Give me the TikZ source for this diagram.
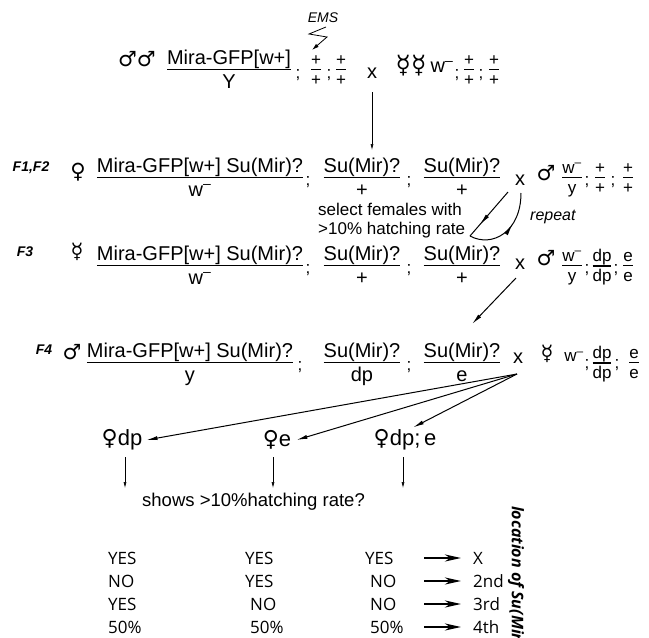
\documentclass[tikz,border=0pt]{standalone}
\usepackage{fontspec}
\setmainfont{Liberation Sans}
\newfontfamily\symfont{DejaVu Sans}
\newfontfamily\tabfont{Open Sans}
\usetikzlibrary{arrows.meta,decorations.markings}

\setlength{\arrayrulewidth}{1.2pt}
\setlength{\tabcolsep}{0pt}
\renewcommand{\arraystretch}{0.9}
% genotype fraction: chromosome over homologue
\newcommand{\fr}[2]{\begin{tabular}{c}#1\\[-1pt]\hline\rule{0pt}{0.9em}#2\end{tabular}}
\newcommand{\wm}{w\textsuperscript{–}}

\tikzset{
  big/.style={font=\fontsize{20}{22}\selectfont, inner sep=0pt},
  bfr/.style={big, yshift=-3pt},
  sm/.style={font=\fontsize{17}{18}\selectfont, inner sep=0pt},
  sfr/.style={sm, yshift=-3pt},
  gen/.style={font=\fontsize{14}{15}\selectfont\bfseries\itshape, inner sep=0pt},
  sex/.style={font=\fontsize{21}{22}\selectfont\symfont, inner sep=0pt},
  note/.style={font=\fontsize{17}{18}\selectfont, inner sep=0pt, anchor=base west},
  tab/.style={font=\fontsize{17}{18}\selectfont\tabfont, inner sep=0pt, anchor=base west},
  fanarr/.style={-{Latex[length=11pt,width=4pt]}, line width=1pt},
  smallarr/.style={-{Latex[length=6pt,width=3pt]}, line width=0.6pt},
  midarr/.style={line width=1pt, postaction={decorate},
    decoration={markings, mark=at position #1 with {\arrow{Latex[length=12pt,width=4pt]}}}},
  resarr/.style={-{Stealth[length=16pt,width=7pt,inset=5pt]}, line width=2.2pt},
}

\begin{document}
\begin{tikzpicture}[x=1pt,y=-1pt]
  \useasboundingbox (0,0) rectangle (649,638);

  % parents
  \node[font=\fontsize{14}{15}\selectfont\itshape] (ems) at (323,18) {EMS};
  \draw[-{Latex[length=7pt,width=4pt]}, line width=0.8pt] (326,27) -- (309,34) -- (327,37) -- (312,50);
  \node[sex] (pm) at (137,59) {♂♂};
  \node[bfr] (p1) at (229,69) {\fr{Mira-GFP[w+]}{Y}};
  \node[sm] at (298,75) {;};
  \node[sfr] at (316,69) {\fr{+}{+}};
  \node[sm] at (329,75) {;};
  \node[sfr] at (341,69) {\fr{+}{+}};
  \node[big] (x0) at (372,73) {x};
  \node[sex, font=\fontsize{25}{26}\selectfont\symfont] (pf) at (411,66) {☿☿};
  \node[big] at (442,67) {\wm};
  \node[sm] at (457,75) {;};
  \node[sfr] at (469,69) {\fr{+}{+}};
  \node[sm] at (481,75) {;};
  \node[sfr] at (494,69) {\fr{+}{+}};
  \coordinate (a0) at (372,150);
  \draw[smallarr] ([yshift=-14pt]x0.south) -- (a0);

  % F1, F2
  \node[gen] (g1) at (31,168) {F1,F2};
  \node[sex] at (78,172) {♀};
  \node[bfr] at (200,177) {\fr{Mira-GFP[w+] Su(Mir)?}{\wm}};
  \node[sm] at (308,182) {;};
  \node[bfr] at (362,177) {\fr{Su(Mir)?}{+}};
  \node[sm] at (409,182) {;};
  \node[bfr] at (462,177) {\fr{Su(Mir)?}{+}};
  \node[big] (x1) at (520,180) {x};
  \node[sex] at (546,173) {♂};
  \node[sfr] at (572,177) {\fr{\wm}{y}};
  \node[sm] at (587,182) {;};
  \node[sfr] at (600,177) {\fr{+}{+}};
  \node[sm] at (613,182) {;};
  \node[sfr] at (628,177) {\fr{+}{+}};
  \node[note] (sel1) at (318,215) {select females with};
  \node[note] (sel2) at (318,234) {>10\% hatching rate};
  \node[note, font=\fontsize{16}{17}\selectfont\itshape] (rep) at (530,220) {repeat};
  \coordinate (r1) at (508,192);
  \coordinate (r2) at (470,236);
  \coordinate (r3) at (521,193);
  \draw[midarr=0.75] (r1) -- (r2);
  \draw[midarr=0.6] (r2) .. controls (492,248) and (521,232) .. (r3);

  % F3
  \node[gen] (g3) at (25,252) {F3};
  \node[sex] at (77,252) {☿};
  \node[bfr] at (200,265) {\fr{Mira-GFP[w+] Su(Mir)?}{\wm}};
  \node[sm] at (308,270) {;};
  \node[bfr] at (362,265) {\fr{Su(Mir)?}{+}};
  \node[sm] at (409,270) {;};
  \node[bfr] at (462,265) {\fr{Su(Mir)?}{+}};
  \node[big] (x3) at (520,264) {x};
  \node[sex] at (546,258) {♂};
  \node[sfr] at (572,265) {\fr{\wm}{y}};
  \node[sm] at (587,270) {;};
  \node[sfr] at (602,265) {\fr{dp}{dp}};
  \node[sm] at (616,270) {;};
  \node[sfr] at (628,265) {\fr{e}{e}};
  \coordinate (b1) at (516,278);
  \coordinate (b2) at (472,324);
  \draw[fanarr] (b1) -- (b2);

  % F4
  \node[gen] (g4) at (44,350) {F4};
  \node[sex] at (72,352) {♂};
  \node[bfr] at (190,362) {\fr{Mira-GFP[w+] Su(Mir)?}{y}};
  \node[sm] at (300,367) {;};
  \node[bfr] at (362,362) {\fr{Su(Mir)?}{dp}};
  \node[sm] at (409,367) {;};
  \node[bfr] at (462,362) {\fr{Su(Mir)?}{e}};
  \node[big] (x4) at (518,358) {x};
  \node[sex] at (547,354) {☿};
  \node[sm] at (574,357) {\wm};
  \node[sm] at (587,365) {;};
  \node[sfr] at (602,362) {\fr{dp}{dp}};
  \node[sm] at (617,365) {;};
  \node[sfr] at (634,362) {\fr{e}{e}};
  \coordinate (o) at (517,374);

  % test females
  \node[font=\fontsize{22}{24}\selectfont, inner sep=0pt] (fdp) at (122,440) {{\symfont ♀}dp};
  \node[font=\fontsize{22}{24}\selectfont, inner sep=0pt] (fe) at (277,440) {{\symfont ♀}e};
  \node[font=\fontsize{22}{24}\selectfont, inner sep=0pt] (fdpe) at (405,440) {{\symfont ♀}dp;\,e};
  \draw[fanarr] (o) -- ([xshift=4pt]fdp.east);
  \draw[fanarr] (o) -- ([xshift=5pt]fe.east);
  \draw[fanarr] (o) -- ([xshift=8pt,yshift=2pt]fdpe.north);
  \coordinate (d1) at (125,488);
  \coordinate (d2) at (273,488);
  \coordinate (d3) at (403,488);
  \draw[smallarr] (125,457) -- (d1);
  \draw[smallarr] (273,457) -- (d2);
  \draw[smallarr] (403,457) -- (d3);
  \node[note, font=\fontsize{18.5}{20}\selectfont] (q) at (142,506) {shows >10\%hatching rate?};

  % outcome table
  \node[tab] at (108,564) {YES}; \node[tab] at (245,564) {YES}; \node[tab] at (365,564) {YES};
  \node[tab] at (108,587) {NO};  \node[tab] at (245,587) {YES}; \node[tab] at (370,587) {NO};
  \node[tab] at (108,610) {YES}; \node[tab] at (250,610) {NO};  \node[tab] at (370,610) {NO};
  \node[tab] at (108,633) {50\%}; \node[tab] at (250,633) {50\%}; \node[tab] at (370,633) {50\%};
  \node[tab] (lx) at (473,564) {X};
  \node[tab] (l2) at (473,587) {2nd};
  \node[tab] (l3) at (473,610) {3rd};
  \node[tab] (l4) at (473,633) {4th};
  \foreach \y/\n in {564/lx,587/l2,610/l3,633/l4}
    \draw[resarr] (424,\y-6) -- ([xshift=-12pt]\n.west |- 0,\y-6);
  \node[rotate=-90, anchor=west, inner sep=0pt,
        font=\fontsize{16}{17}\selectfont\tabfont\bfseries\itshape] (loc) at (516,506) {location of Su(Mir)};
\end{tikzpicture}
\end{document}
